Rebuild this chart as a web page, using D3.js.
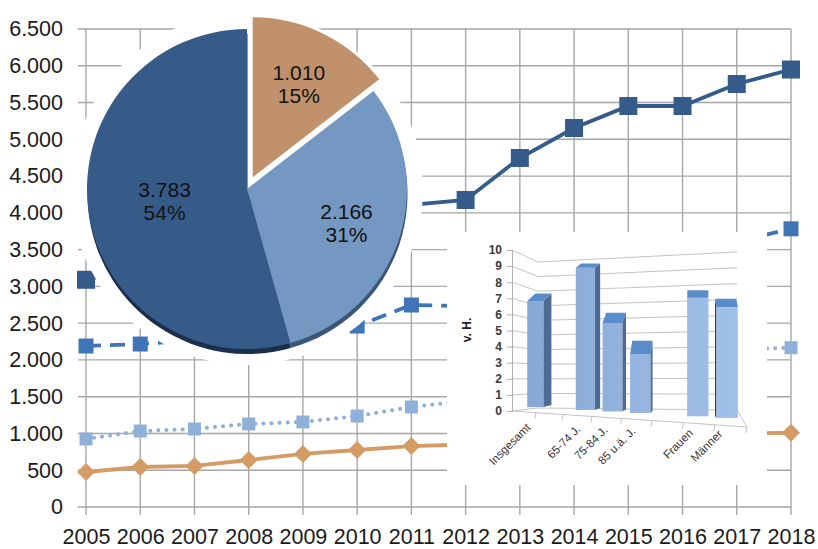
<!DOCTYPE html>
<html>
<head>
<meta charset="utf-8">
<script src="https://cdn.jsdelivr.net/npm/d3@7"></script>
<style>
body { margin: 0; background: #fff; }
svg { display: block; font-family: "Liberation Sans", Arial, sans-serif; }
</style>
</head>
<body>
<svg id="chart"></svg>
<script>
// Zeitreihen 2005-2018
let years = [2005, 2006, 2007, 2008, 2009, 2010, 2011, 2012, 2013, 2014, 2015, 2016, 2017, 2018];
let gesamt = [3090, 3249, 3331, 3439, 3546, 3698, 4107, 4175, 4746, 5154, 5453, 5453, 5752, 5949];
let reihe2 = [2189, 2216, 2270, 2310, 2390, 2461, 2747, 2730, 3130, 3380, 3550, 3470, 3610, 3783];
let reihe3 = [925, 1033, 1061, 1129, 1156, 1237, 1360, 1445, 1616, 1774, 1903, 1983, 2142, 2166];
let reihe4 = [476, 544, 558, 639, 721, 775, 829, 850, 875, 905, 935, 960, 1000, 1010];
let yTicks = [0, 500, 1000, 1500, 2000, 2500, 3000, 3500, 4000, 4500, 5000, 5500, 6000, 6500];

// Kreis 2018
let pieValues = [1010, 2166, 3783];
let pieColors = ['#c0916a', '#7598c3', '#365b88'];
let pieRim = [null, '#3a5677', '#1b2f4d'];

// Saeulen v. H.
let barCats = ['Insgesamt', '', '65-74 J.', '75-84 J.', '85 u.ä. J.', '', 'Frauen', 'Männer'];
let barVals = [6.7, null, 9.0, 5.6, 3.7, null, 7.5, 7.0];
let barTicks = [0, 1, 2, 3, 4, 5, 6, 7, 8, 9, 10];

let width = 818;
let height = 549;

let de = d3.formatLocale({decimal: ',', thousands: '.', grouping: [3], currency: ['', ' €']});
let fmt = de.format(',d');
let pct = de.format('.0%');

let svg = d3.select('#chart').attr('width', width).attr('height', height);

let x = d3.scalePoint().domain(years).range([86, 791]);
let y = d3.scaleLinear().domain([0, 6500]).range([507, 29]);

/* Gitternetz */
let grid = svg.append('g').attr('stroke', '#a6a6a6').attr('stroke-width', 1.4);
grid.selectAll('.gx').data(years).enter().append('line')
    .attr('x1', d => x(d)).attr('x2', d => x(d))
    .attr('y1', y(6500)).attr('y2', y(0) + 8);
grid.selectAll('.gy').data(yTicks).enter().append('line')
    .attr('x1', 78).attr('x2', x(2018))
    .attr('y1', d => y(d)).attr('y2', d => y(d));

/* Linien */
let series = [
    {vals: gesamt, color: '#355b8b', dash: null, cap: 'butt', w: 3.8, marker: 'square', size: 18},
    {vals: reihe2, color: '#3f74b6', dash: '15,9', cap: 'butt', w: 3.8, marker: 'square', size: 15},
    {vals: reihe3, color: '#8fb0d9', dash: '0.1,8', cap: 'round', w: 4, marker: 'square', size: 13},
    {vals: reihe4, color: '#d49b65', dash: null, cap: 'butt', w: 3.8, marker: 'diamond', size: 18}
];
let line = d3.line().x((d, i) => x(years[i])).y(d => y(d));

series.slice().reverse().forEach(s => {
    let g = svg.append('g');
    g.append('path').datum(s.vals)
        .attr('d', line)
        .attr('fill', 'none')
        .attr('stroke', s.color)
        .attr('stroke-width', s.w)
        .attr('stroke-linecap', s.cap)
        .attr('stroke-dasharray', s.dash);
    g.selectAll('path.m').data(s.vals).enter().append('path')
        .attr('class', 'm')
        .attr('fill', s.color)
        .attr('d', s.marker === 'diamond'
            ? d3.symbol(d3.symbolSquare, (s.size / Math.SQRT2) * (s.size / Math.SQRT2))()
            : d3.symbol(d3.symbolSquare, s.size * s.size)())
        .attr('transform', (d, i) => 'translate(' + x(years[i]) + ',' + y(d) + ')' +
            (s.marker === 'diamond' ? ' rotate(45)' : ''));
});

/* Kreisdiagramm */
let pcx = 247, pcy = 189, pr = 160;
let pieG = svg.append('g').attr('transform', 'translate(' + pcx + ',' + pcy + ')');
pieG.append('circle').attr('r', 176).attr('fill', '#fff');

let pie = d3.pie().sort(null).value(d => d);
let arcs = pie(pieValues);
let total = d3.sum(pieValues);
let arc = d3.arc().innerRadius(0).outerRadius(pr);
let explode = d => {
    if (d.index !== 0) return [0, 0];
    let a = (d.startAngle + d.endAngle) / 2;
    return [Math.sin(a) * 13, -Math.cos(a) * 13];
};

pieG.selectAll('.rim').data(arcs.filter(d => pieRim[d.index])).enter().append('path')
    .attr('d', arc)
    .attr('fill', d => pieRim[d.index])
    .attr('transform', 'translate(0.5,5)');
pieG.selectAll('.slice').data(arcs).enter().append('path')
    .attr('d', arc)
    .attr('fill', d => pieColors[d.index])
    .attr('transform', d => 'translate(' + explode(d) + ')');

let lbl = pieG.selectAll('.lbl').data(arcs).enter().append('text')
    .attr('text-anchor', 'middle')
    .attr('font-size', 21)
    .attr('fill', '#111')
    .attr('transform', d => {
        let a = (d.startAngle + d.endAngle) / 2;
        let rr = (d.endAngle - d.startAngle > Math.PI) ? pr * 0.52 : pr * 0.655;
        let e = explode(d);
        return 'translate(' + (Math.sin(a) * rr + e[0]) + ',' + (-Math.cos(a) * rr + e[1]) + ')';
    });
lbl.append('tspan').attr('x', 0).attr('dy', '-0.15em').text(d => fmt(d.value));
lbl.append('tspan').attr('x', 0).attr('dy', '1.1em').text(d => pct(d.value / total));

/* Achsenbeschriftung */
let yAxis = d3.axisLeft(y).tickValues(yTicks).tickSize(0).tickPadding(0).tickFormat(fmt);
let ya = svg.append('g').attr('transform', 'translate(63,0)').call(yAxis);
let xAxis = d3.axisBottom(x).tickSize(0).tickPadding(22).tickFormat(d => d);
let xa = svg.append('g').attr('transform', 'translate(0,' + y(0) + ')').call(xAxis);
[ya, xa].forEach(a => {
    a.select('.domain').remove();
    a.selectAll('text').attr('font-size', 21.5).attr('fill', '#1a1a1a')
        .attr('font-family', '"Liberation Sans", Arial, sans-serif');
});

/* Eingebettetes Saeulendiagramm */
let ib = svg.append('g');
ib.append('rect').attr('x', 447).attr('y', 232).attr('width', 320).attr('height', 253).attr('fill', '#fff');

let yb = d3.scaleLinear().domain([0, 10]).range([411, 250]);
let ybCorner = d3.scaleLinear().domain([0, 10]).range([408, 262]);
let ybBack = d3.scaleLinear().domain([0, 10]).range([410, 252]);
let slotFront = d3.scalePow().exponent(1.1).domain([0, 8]).range([512, 747]);
let slotMid = d3.scalePow().exponent(1.1).domain([0, 8]).range([525, 742]);
let frontEdge = d3.scaleLinear().domain([512, 747]).range([411, 427]);
let floorY = d3.scaleLinear().domain([525, 742]).range([406.5, 418.8]);
let hb = d3.scaleLinear().domain([0, 10]).range([0, 158]);
let labelY = d3.scaleLinear().domain([528, 727]).range([428, 435]);

let wall = ib.append('g').attr('fill', 'none').attr('stroke', '#c4c4c4').attr('stroke-width', 1);
wall.selectAll('path').data(barTicks).enter().append('path')
    .attr('d', v => 'M512,' + yb(v) + 'L538,' + ybCorner(v) + 'L737,' + ybBack(v));
wall.append('path').attr('d', 'M512,411L747,427L737,410');
wall.selectAll('.tk').data(d3.range(1, 9)).enter().append('line')
    .attr('x1', i => slotFront(i)).attr('x2', i => slotFront(i) - 1)
    .attr('y1', i => frontEdge(slotFront(i))).attr('y2', i => frontEdge(slotFront(i)) + 6);

let ybAxis = d3.axisLeft(yb).tickValues(barTicks).tickSize(5).tickSizeOuter(0).tickPadding(5);
let yba = ib.append('g').attr('transform', 'translate(512,0)').call(ybAxis);
yba.select('.domain').attr('stroke', '#b0b0b0');
yba.selectAll('line').attr('stroke', '#b0b0b0');
yba.selectAll('text').attr('font-size', 12).attr('font-weight', 'bold').attr('fill', '#3a3a3a')
    .attr('font-family', '"Liberation Sans", Arial, sans-serif');

ib.append('text').attr('transform', 'translate(471,330) rotate(-90)')
    .attr('text-anchor', 'middle').attr('font-size', 12).attr('font-weight', 'bold')
    .attr('fill', '#222').text('v. H.');

let defs = svg.append('defs');
let grad = defs.append('linearGradient').attr('id', 'front').attr('gradientUnits', 'userSpaceOnUse')
    .attr('x1', 520).attr('x2', 745).attr('y1', 0).attr('y2', 0);
grad.append('stop').attr('offset', 0).attr('stop-color', '#86a7d3');
grad.append('stop').attr('offset', 1).attr('stop-color', '#a2c1ea');

let bars = barVals.map((v, i) => ({v: v, i: i})).filter(d => d.v !== null);
let bg = ib.append('g');
bars.forEach(d => {
    let cx = slotMid(d.i + 0.5);
    let w = slotMid(d.i + 0.86) - slotMid(d.i + 0.14);
    let xL = cx - w / 2, xR = cx + w / 2;
    let yBot = floorY(cx);
    let yTop = yBot - hb(d.v);
    let dep = (yTop - 230) * 0.11;
    let s = (690 - (cx > 690 ? xL : xR)) * 0.055;
    let ex = s >= 0 ? xR : xL;
    bg.append('path')
        .attr('d', 'M' + ex + ',' + yTop + 'L' + (ex + s) + ',' + (yTop - dep) + 'L' + (ex + s) + ',' + (yBot - 2) + 'L' + ex + ',' + yBot + 'Z')
        .attr('fill', s >= 0 ? '#4f6a90' : '#2c4262');
    bg.append('rect').attr('x', xL).attr('y', yTop).attr('width', w).attr('height', yBot - yTop)
        .attr('fill', 'url(#front)');
    bg.append('path')
        .attr('d', 'M' + xL + ',' + yTop + 'L' + xR + ',' + yTop + 'L' + (xR + s) + ',' + (yTop - dep) + 'L' + (xL + s) + ',' + (yTop - dep) + 'Z')
        .attr('fill', '#5a8cca');
});

ib.selectAll('.bl').data(barCats.map((c, i) => ({c: c, i: i})).filter(d => d.c !== '')).enter()
    .append('text')
    .attr('text-anchor', 'end')
    .attr('font-size', 11.5)
    .attr('fill', '#333')
    .attr('transform', d => {
        let cx = slotMid(d.i + 0.5) - 4;
        return 'translate(' + cx + ',' + labelY(cx) + ') rotate(-45)';
    })
    .text(d => d.c);
</script>
</body>
</html>
